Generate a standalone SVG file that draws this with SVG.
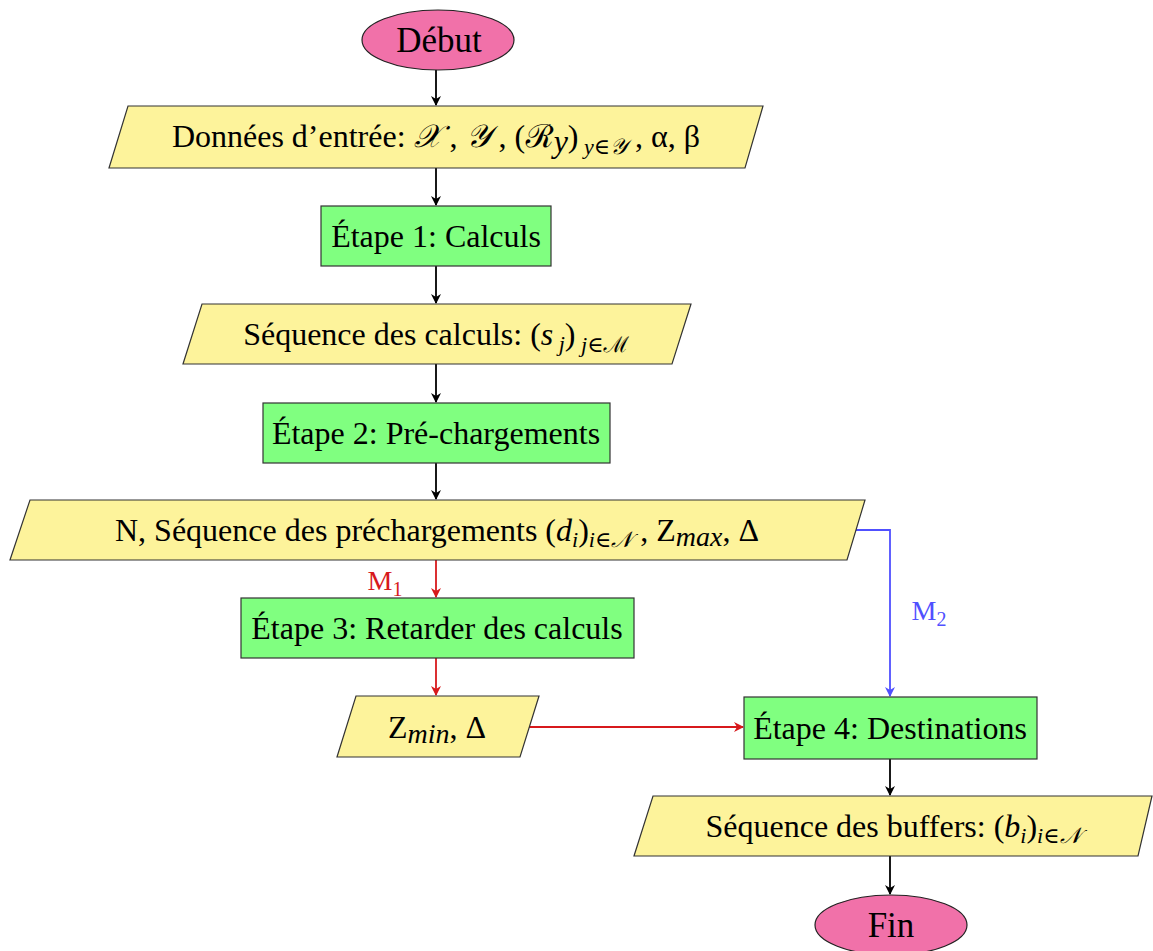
<svg xmlns="http://www.w3.org/2000/svg" width="1153" height="951" viewBox="0 0 1153 951">
<defs>
<style>
.t{font-family:"Liberation Serif","Times New Roman","DejaVu Serif",serif;font-size:32px;fill:#000;text-anchor:middle}
.e{font-size:35px}
.i{font-style:italic}
.s{font-size:22px}
.sc{font-family:"DejaVu Serif","Noto Sans","DejaVu Sans",serif;font-style:italic}
.io{fill:#FDF39B;stroke:#333;stroke-width:1.2}
.pr{fill:#80FF80;stroke:#333;stroke-width:1.2}
.el{fill:#F171A9;stroke:#222;stroke-width:1.2}
.k{stroke:#000;stroke-width:1.8;fill:none}
.r{stroke:#D7191C;stroke-width:1.8;fill:none}
.b{stroke:#5050FF;stroke-width:1.8;fill:none}
</style>
<marker id="ak" markerWidth="12" markerHeight="12" refX="9" refY="5" orient="auto" markerUnits="userSpaceOnUse"><path d="M0,0 L10,5 L0,10 L3,5 Z" fill="#000"/></marker>
<marker id="ar" markerWidth="12" markerHeight="12" refX="9" refY="5" orient="auto" markerUnits="userSpaceOnUse"><path d="M0,0 L10,5 L0,10 L3,5 Z" fill="#D7191C"/></marker>
<marker id="ab" markerWidth="12" markerHeight="12" refX="9" refY="5" orient="auto" markerUnits="userSpaceOnUse"><path d="M0,0 L10,5 L0,10 L3,5 Z" fill="#5050FF"/></marker>
</defs>
<rect width="1153" height="951" fill="#fff"/>
<g id="connectors">
<line class="k" x1="436" y1="70" x2="436" y2="105" marker-end="url(#ak)"/>
<line class="k" x1="436" y1="168" x2="436" y2="205" marker-end="url(#ak)"/>
<line class="k" x1="436" y1="266" x2="436" y2="303" marker-end="url(#ak)"/>
<line class="k" x1="436" y1="364" x2="436" y2="402" marker-end="url(#ak)"/>
<line class="k" x1="436" y1="463" x2="436" y2="499" marker-end="url(#ak)"/>
<line class="r" x1="436" y1="560" x2="436" y2="597" marker-end="url(#ar)"/>
<line class="r" x1="436" y1="658" x2="436" y2="695" marker-end="url(#ar)"/>
<line class="r" x1="527" y1="727" x2="743" y2="727" marker-end="url(#ar)"/>
<polyline class="b" points="850,530 890,530 890,696" marker-end="url(#ab)"/>
<line class="k" x1="890" y1="759" x2="890" y2="795" marker-end="url(#ak)"/>
<line class="k" x1="890" y1="856" x2="890" y2="894" marker-end="url(#ak)"/>
<text class="t" x="385" y="590" style="fill:#D7191C;font-size:28px">M<tspan dy="6" style="font-size:20px">1</tspan></text>
<text class="t" x="929" y="620" style="fill:#5050FF;font-size:28px">M<tspan dy="6" style="font-size:20px">2</tspan></text>
</g>
<g id="debut">
<ellipse class="el" cx="438" cy="40" rx="76" ry="30"/>
<text class="t e" x="439" y="52">Début</text>
</g>
<g id="donnees">
<polygon class="io" points="128,106 763,106 745,168 109,168"/>
<text class="t" x="436" y="147">Données d’entrée: <tspan class="sc">𝒳</tspan> , <tspan class="sc">𝒴</tspan> , (<tspan class="sc">ℛ</tspan><tspan class="i" dy="5">y</tspan><tspan dy="-5">)</tspan><tspan class="s i" dy="7"> y</tspan><tspan class="s">∈</tspan><tspan class="s sc">𝒴</tspan><tspan dy="-7"> , α, β</tspan></text>
</g>
<g id="etape1">
<rect class="pr" x="321" y="206" width="230" height="60"/>
<text class="t" x="436" y="247">Étape 1: Calculs</text>
</g>
<g id="seqcalc">
<polygon class="io" points="202,304 691,304 672,364 183,364"/>
<text class="t" x="436" y="345">Séquence des calculs: (<tspan class="i">s</tspan><tspan class="s i" dy="6"> j</tspan><tspan dy="-6">)</tspan><tspan class="s i" dy="7"> j</tspan><tspan class="s">∈</tspan><tspan class="s sc">ℳ</tspan></text>
</g>
<g id="etape2">
<rect class="pr" x="263" y="403" width="347" height="60"/>
<text class="t" x="436" y="444">Étape 2: Pré-chargements</text>
</g>
<g id="seqprech">
<polygon class="io" points="30,500 865,500 847,560 10,560"/>
<text class="t" x="437" y="541">N, Séquence des préchargements (<tspan class="i">d</tspan><tspan class="s i" dy="6">i</tspan><tspan dy="-6">)</tspan><tspan class="s i" dy="6">i</tspan><tspan class="s">∈</tspan><tspan class="s sc">𝒩</tspan><tspan dy="-6"> , Z</tspan><tspan class="i" dy="5" style="font-size:28px">max</tspan><tspan dy="-5">, Δ</tspan></text>
</g>
<g id="etape3">
<rect class="pr" x="241" y="598" width="393" height="60"/>
<text class="t" x="437" y="639">Étape 3: Retarder des calculs</text>
</g>
<g id="zmin">
<polygon class="io" points="356,696 539,696 520,757 337,757"/>
<text class="t" x="437" y="738">Z<tspan class="i" dy="5" style="font-size:28px">min</tspan><tspan dy="-5">, Δ</tspan></text>
</g>
<g id="etape4">
<rect class="pr" x="744" y="697" width="293" height="62"/>
<text class="t" x="890" y="739">Étape 4: Destinations</text>
</g>
<g id="seqbuf">
<polygon class="io" points="653,796 1152,796 1138,856 634,856"/>
<text class="t" x="893" y="837">Séquence des buffers: (<tspan class="i">b</tspan><tspan class="s i" dy="6">i</tspan><tspan dy="-6">)</tspan><tspan class="s i" dy="6">i</tspan><tspan class="s">∈</tspan><tspan class="s sc">𝒩</tspan></text>
</g>
<g id="fin">
<ellipse class="el" cx="891" cy="925" rx="76" ry="30"/>
<text class="t e" x="891" y="937">Fin</text>
</g>
</svg>
